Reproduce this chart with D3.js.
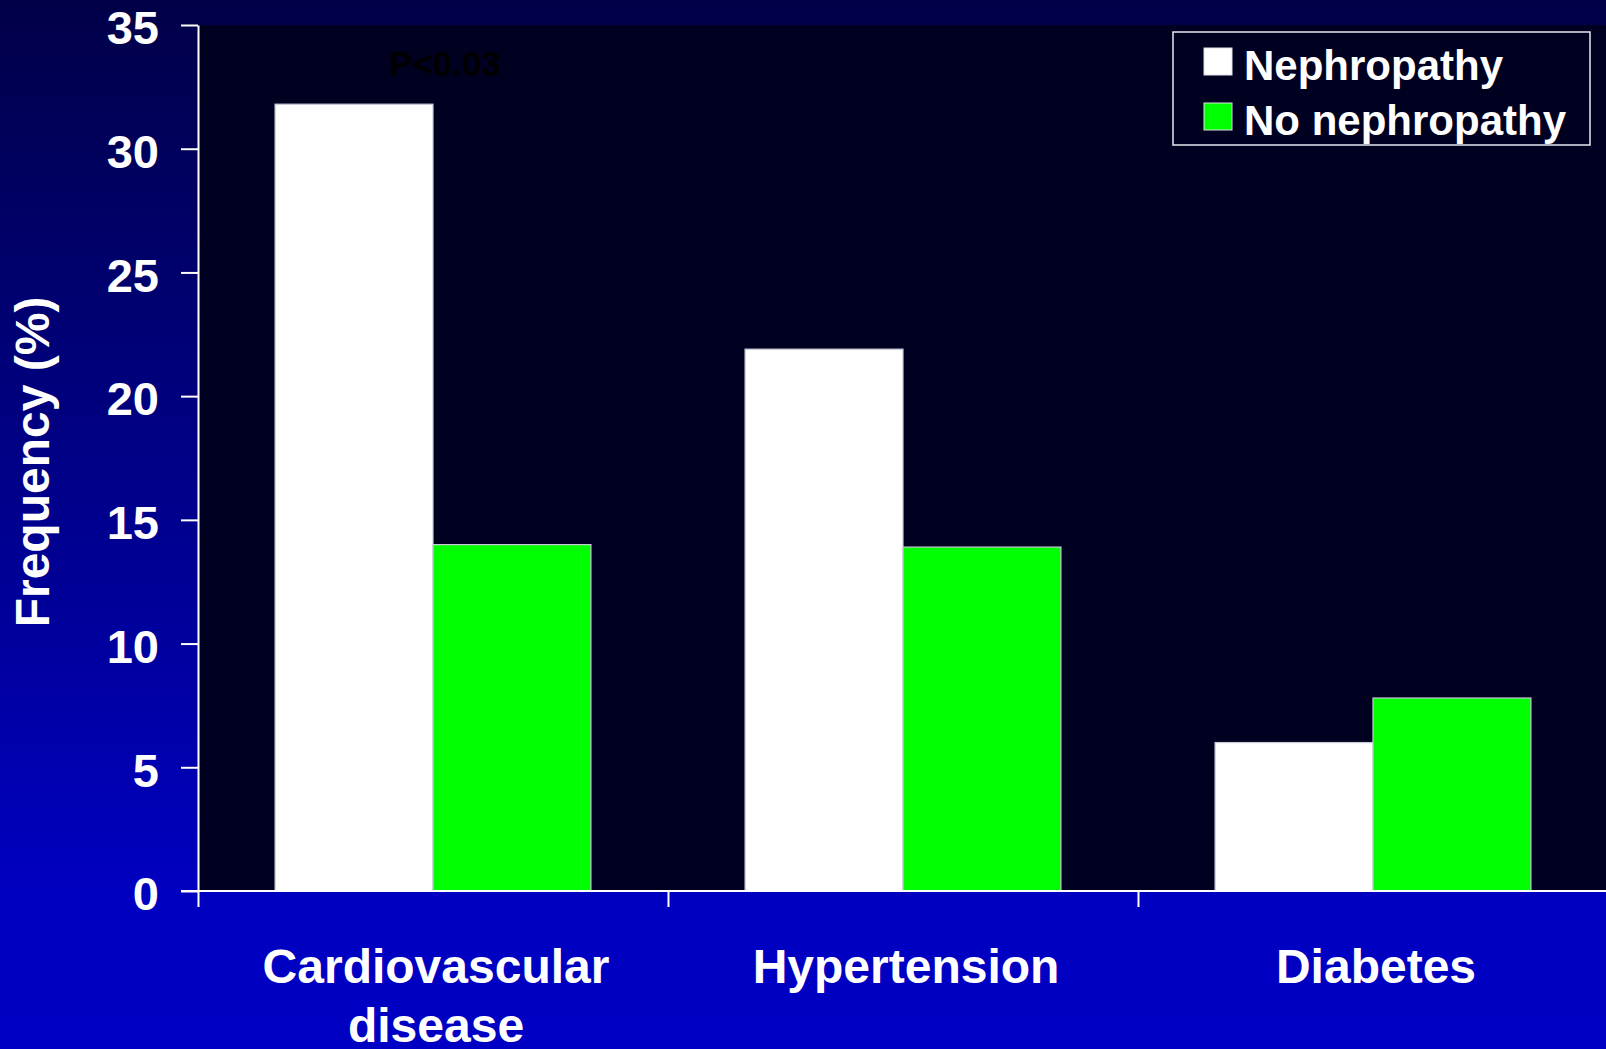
<!DOCTYPE html>
<html>
<head>
<meta charset="utf-8">
<script src="https://cdn.jsdelivr.net/npm/d3@7"></script>
<style>
  html, body { margin: 0; padding: 0; background: #000060; }
  svg { display: block; }
  text { font-family: "Liberation Sans", Arial, sans-serif; font-weight: bold; }
</style>
</head>
<body>
<svg id="chart" width="1606" height="1049"></svg>
<script>
// Comorbidity frequency by nephropathy status
const categories = ["Cardiovascular disease", "Hypertension", "Diabetes"];
const seriesNames = ["Nephropathy", "No nephropathy"];
const nephropathy = [31.8, 21.9, 6.0];
const noNephropathy = [14.0, 13.9, 7.8];
const yTicks = [0, 5, 10, 15, 20, 25, 30, 35];
const seriesColors = ["#ffffff", "#00ff00"];
const annotation = "P<0.03";

const W = 1606, H = 1049;
const margin = { left: 198, top: 25, right: 0, bottom: 158 };
const width = 1410;
const height = H - margin.top - margin.bottom; // 866

const svg = d3.select("#chart");

// page background: dark navy at the top fading to bright blue
const defs = svg.append("defs");
const grad = defs.append("linearGradient")
  .attr("id", "bg").attr("x1", 0).attr("y1", 0).attr("x2", 0).attr("y2", 1);
grad.append("stop").attr("offset", 0).attr("stop-color", "#000048");
grad.append("stop").attr("offset", 0.85).attr("stop-color", "#0000c0");
grad.append("stop").attr("offset", 1).attr("stop-color", "#0000c4");
svg.append("rect").attr("width", W).attr("height", H).attr("fill", "url(#bg)");

const g = svg.append("g").attr("transform", `translate(${margin.left},${margin.top})`);

// scales
const y = d3.scaleLinear().domain([0, 35]).range([height, 0]);
const x0 = d3.scaleBand().domain(categories).range([0, width])
  .paddingInner(0.328).paddingOuter(0.164);
const x1 = d3.scaleBand().domain(seriesNames).range([0, x0.bandwidth()]);
const xb = d3.scaleLinear().domain([0, categories.length]).range([0, width]);

// plot area
g.append("rect")
  .attr("x", 0).attr("y", y(35))
  .attr("width", W - margin.left).attr("height", y(0) - y(35))
  .attr("fill", "#000020");

// bars
const rows = categories.map((c, i) => ({ cat: c, vals: [nephropathy[i], noNephropathy[i]] }));
const groups = g.selectAll("g.grp").data(rows).join("g")
  .attr("class", "grp")
  .attr("transform", d => `translate(${x0(d.cat)},0)`);
groups.selectAll("rect").data(d => d.vals.map((v, k) => ({ key: seriesNames[k], v, k })))
  .join("rect")
  .attr("x", d => x1(d.key))
  .attr("y", d => y(d.v))
  .attr("width", x1.bandwidth())
  .attr("height", d => y(0) - y(d.v))
  .attr("fill", d => seriesColors[d.k])
  .attr("stroke", "#c8c8d8")
  .attr("stroke-width", 1.2);

// y axis
const yAxis = g.append("g").call(
  d3.axisLeft(y).tickValues(yTicks).tickSize(17).tickSizeOuter(0).tickPadding(22)
);
yAxis.select(".domain").attr("stroke", "#ffffff").attr("stroke-width", 2);
yAxis.selectAll(".tick line").attr("stroke", "#ffffff").attr("stroke-width", 2);
yAxis.selectAll(".tick text")
  .attr("fill", "#ffffff").attr("font-size", 47)
  .attr("font-family", "Liberation Sans, Arial, sans-serif")
  .attr("font-weight", "bold")
  .attr("dy", "0.4em");

// x axis: ticks at category boundaries
const xAxis = g.append("g").attr("transform", `translate(0,${height})`).call(
  d3.axisBottom(xb).ticks(categories.length).tickSize(16).tickSizeOuter(0).tickFormat("")
);
xAxis.select(".domain").remove();
xAxis.selectAll(".tick line").attr("stroke", "#ffffff").attr("stroke-width", 2);
xAxis.append("line")
  .attr("x1", -17).attr("x2", W - margin.left)
  .attr("y1", 0).attr("y2", 0)
  .attr("stroke", "#ffffff").attr("stroke-width", 2);

// category labels
const catLabels = g.selectAll("text.cat").data(categories).join("text")
  .attr("class", "cat")
  .attr("text-anchor", "middle")
  .attr("fill", "#ffffff")
  .attr("font-size", 48)
  .attr("transform", d => `translate(${x0(d) + x0.bandwidth() / 2 + 3},${height + 92})`);
catLabels.selectAll("tspan").data(d => d.split(" ")).join("tspan")
  .attr("x", 0)
  .attr("dy", (d, i) => i === 0 ? 0 : 59)
  .text(d => d);

// y axis title
svg.append("text")
  .attr("transform", `translate(49,462) rotate(-90)`)
  .attr("text-anchor", "middle")
  .attr("fill", "#ffffff")
  .attr("font-size", 48)
  .text("Frequency (%)");

// significance note above the first group
g.append("text")
  .attr("x", x0(categories[0]) + x0.bandwidth() / 2 + 12)
  .attr("y", 76 - margin.top)
  .attr("text-anchor", "middle")
  .attr("fill", "#000000")
  .attr("font-size", 35)
  .text(annotation);

// legend
const legend = svg.append("g").attr("transform", "translate(1173,32)");
legend.append("rect")
  .attr("width", 417).attr("height", 113)
  .attr("fill", "none").attr("stroke", "#e8e8f0").attr("stroke-width", 1.5);
const items = legend.selectAll("g.item").data(seriesNames).join("g")
  .attr("class", "item")
  .attr("transform", (d, i) => `translate(31,${16 + i * 55})`);
items.append("rect")
  .attr("width", 28).attr("height", 27)
  .attr("fill", (d, i) => seriesColors[i])
  .attr("stroke", "#e0e0e0").attr("stroke-width", 1);
items.append("text")
  .attr("x", 40).attr("y", 32)
  .attr("fill", "#ffffff")
  .attr("font-size", 42)
  .text(d => d);
</script>
</body>
</html>
